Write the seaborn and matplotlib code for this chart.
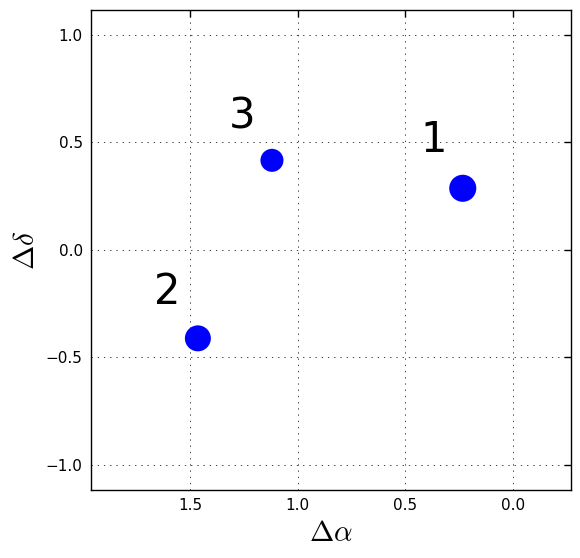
import matplotlib
matplotlib.use("Agg")
import matplotlib.pyplot as plt
import seaborn as sns
import pandas as pd

# offsets of the three sources
d_alpha = [0.234, 1.464, 1.12]
d_delta = [0.287, -0.411, 0.417]
labels = ["1", "2", "3"]
label_x = [0.367, 1.608, 1.257]
label_y = [0.51, -0.194, 0.62]
marker_size = [380, 350, 275]

df = pd.DataFrame({"dra": d_alpha, "ddec": d_delta, "size": marker_size})

sns.set_style("white")
plt.rcParams["font.family"] = ["DejaVu Sans"]
plt.rcParams["mathtext.fontset"] = "cm"
plt.rcParams["text.color"] = "black"
plt.rcParams["axes.labelcolor"] = "black"
plt.rcParams["xtick.color"] = "black"
plt.rcParams["ytick.color"] = "black"

fig, ax = plt.subplots(figsize=(5.8, 5.58), dpi=100)
fig.subplots_adjust(left=0.157, right=0.985, top=0.982, bottom=0.122)

sns.scatterplot(data=df, x="dra", y="ddec", size="size", sizes=(min(marker_size), max(marker_size)),
                color="blue", edgecolor="none", legend=False, ax=ax, zorder=3)

for lx, ly, t in zip(label_x, label_y, labels):
    ax.text(lx, ly, t, fontsize=30, ha="center", va="center", color="black")

ax.set_xlim(1.96, -0.27)
ax.set_ylim(-1.116, 1.116)
ax.set_xticks([1.5, 1.0, 0.5, 0.0])
ax.set_yticks([-1.0, -0.5, 0.0, 0.5, 1.0])
ax.grid(True, color="#444444", linestyle=(0, (1.4, 5.0)), linewidth=0.7)
ax.tick_params(direction="in", length=5, width=1, labelsize=11,
               top=True, right=True, pad=6, colors="black")
for s in ax.spines.values():
    s.set_color("black")
    s.set_linewidth(1.0)

ax.set_xlabel(r"$\Delta\alpha$", fontsize=21)
ax.set_ylabel(r"$\Delta\delta$", fontsize=21)

fig.savefig("out.png", dpi=100)
